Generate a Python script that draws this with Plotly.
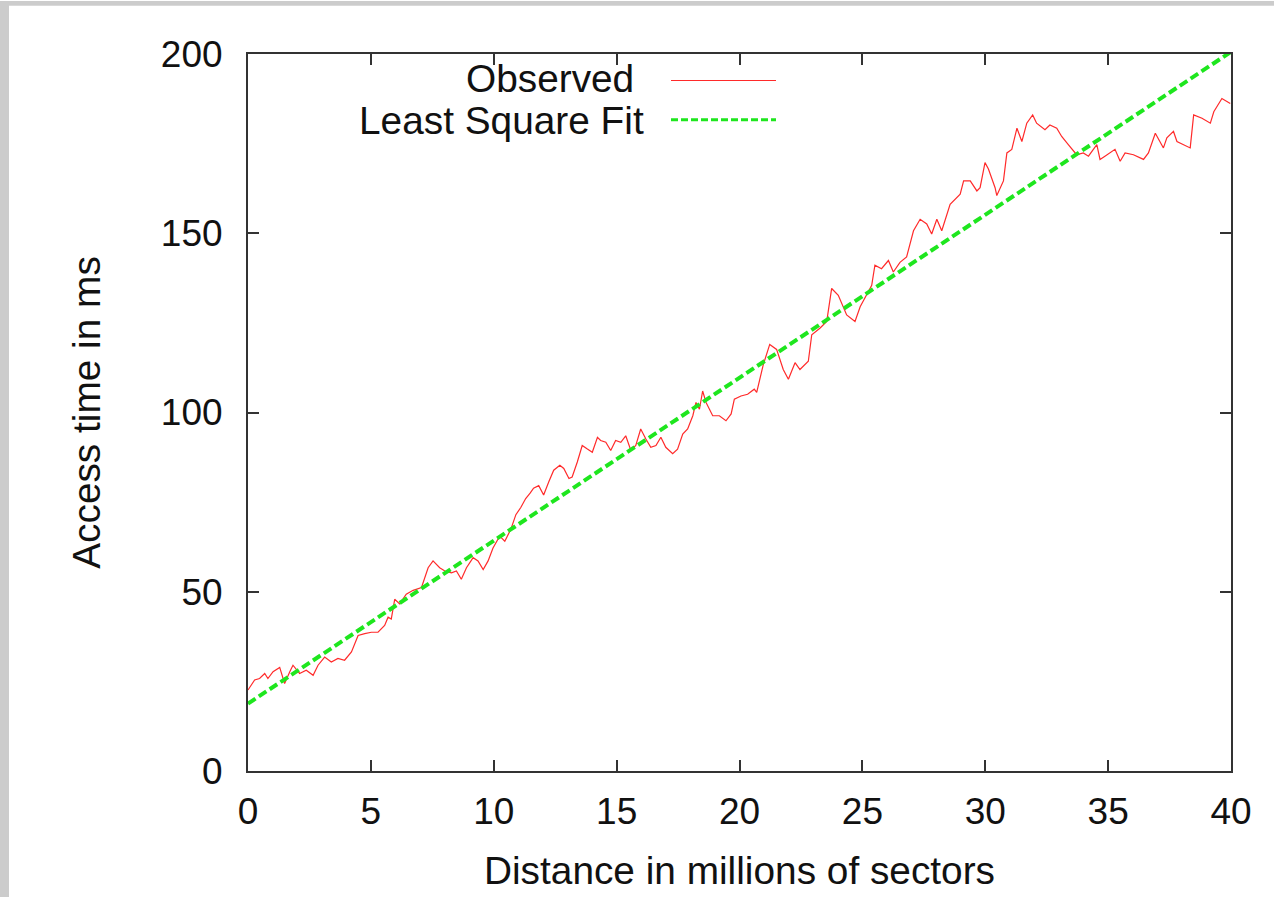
import plotly.graph_objects as go

# ---- data ----
obs_x = [0.00, 0.27, 0.47, 0.68, 0.81, 1.02, 1.29, 1.49, 1.70, 1.83, 2.10, 2.37, 2.65, 2.85,
         3.12, 3.39, 3.66, 3.93, 4.21, 4.48, 4.75, 5.02, 5.29, 5.56, 5.70, 5.83, 5.97, 6.17,
         6.44, 6.72, 7.06, 7.33, 7.53, 7.80, 8.01, 8.28, 8.48, 8.68, 8.89, 9.16, 9.36, 9.57,
         9.77, 9.97, 10.24, 10.45, 10.70, 10.90, 11.10, 11.30, 11.48, 11.62, 11.83, 12.03,
         12.24, 12.44, 12.69, 12.85, 13.06, 13.19, 13.40, 13.60, 13.81, 14.01, 14.22, 14.35,
         14.56, 14.76, 14.96, 15.17, 15.37, 15.58, 15.78, 15.98, 16.19, 16.39, 16.60, 16.80,
         17.00, 17.28, 17.48, 17.69, 17.89, 18.10, 18.23, 18.37, 18.50, 18.64, 18.91, 19.18,
         19.45, 19.66, 19.79, 20.06, 20.33, 20.60, 20.70, 20.97, 21.23, 21.51, 21.78, 21.99,
         22.26, 22.46, 22.80, 22.94, 23.27, 23.55, 23.75, 24.02, 24.36, 24.70, 24.91, 25.17,
         25.38, 25.51, 25.78, 26.06, 26.26, 26.53, 26.80, 27.08, 27.35, 27.62, 27.82, 28.03,
         28.23, 28.57, 28.98, 29.12, 29.39, 29.66, 29.79, 29.99, 30.13, 30.40, 30.47, 30.74,
         30.88, 31.08, 31.29, 31.49, 31.69, 31.93, 32.09, 32.43, 32.63, 32.91, 33.11, 33.38,
         33.72, 33.99, 34.20, 34.54, 34.67, 34.87, 35.28, 35.49, 35.69, 36.03, 36.44, 36.64,
         36.92, 37.25, 37.39, 37.66, 37.80, 38.34, 38.48, 38.82, 39.16, 39.30, 39.63, 39.97]
obs_y = [22.6, 25.4, 25.8, 27.2, 25.8, 27.7, 28.9, 24.4, 27.7, 29.5, 27.2, 28.1, 26.7, 29.5,
         31.8, 30.4, 31.4, 30.9, 33.2, 37.8, 38.3, 38.7, 38.7, 40.6, 42.9, 42.4, 47.9, 46.6,
         49.3, 50.4, 51.2, 56.7, 58.6, 56.7, 55.8, 55.3, 55.8, 53.5, 56.7, 59.5, 58.6, 56.2,
         58.6, 62.2, 65.5, 64.1, 67.5, 71.5, 73.5, 76.0, 77.5, 78.9, 79.6, 77.0,
         80.7, 83.9, 85.3, 84.4, 81.6, 82.0, 86.2, 90.8, 89.8, 88.9, 93.1, 92.2,
         91.7, 89.4, 92.2, 91.7, 93.5, 89.4, 90.8, 95.4, 92.6, 90.3, 90.8, 93.1,
         90.3, 88.5, 89.8, 94.0, 95.4, 99.1, 102.8, 100.9, 106.0, 102.8, 99.1, 99.1,
         97.7, 99.6, 103.7, 104.6, 105.1, 106.5, 105.6, 113.4, 119.0, 117.6, 112.0, 109.3,
         113.9, 112.0, 114.3, 121.7, 123.5, 125.4, 134.6, 132.7, 127.2, 125.4, 129.5, 132.7,
         135.5, 141.1, 140.1, 142.4, 139.2, 141.9, 143.4, 150.7, 153.9, 152.6, 149.8, 153.9,
         150.7, 158.1, 160.9, 164.6, 164.6, 161.8, 162.7, 169.7, 167.9, 162.7, 160.5, 164.6,
         172.4, 173.4, 179.3, 175.6, 180.7, 183.0, 180.7, 178.9, 180.2, 179.3, 177.0, 174.7,
         171.9, 172.4, 171.5, 174.7, 170.6, 171.5, 173.4, 170.1, 172.4, 171.9, 170.6, 172.4,
         177.9, 173.8, 176.6, 178.4, 175.6, 173.8, 183.0, 182.1, 180.7, 183.9, 187.6, 186.2]

fit_x = [0, 40]
fit_y = [18.8, 200.6]

x_ticks = [0, 5, 10, 15, 20, 25, 30, 35, 40]
y_ticks = [0, 50, 100, 150, 200]

legend_names = ["Observed", "Least Square Fit"]

# ---- styling ----
FONT = "Liberation Sans, Arial, Helvetica, sans-serif"
FS_TICK = 37
FS_TEXT = 38.8
RED = "#ff2a2a"
GREEN = "#1ee61e"
W, H = 1274, 897
ML, MR, MT, MB = 248, 43, 54, 113
PW, PH = W - ML - MR, H - MT - MB


def px(xp):
    return (xp - ML) / PW


def py(yp):
    return (H - MB - yp) / PH


fig = go.Figure()
fig.add_trace(go.Scatter(x=obs_x, y=obs_y, mode="lines", name=legend_names[0],
                         line=dict(color=RED, width=1.2), showlegend=False))
fig.add_trace(go.Scatter(x=fit_x, y=fit_y, mode="lines", name=legend_names[1],
                         line=dict(color=GREEN, width=4, dash="9px,4px"), showlegend=False))

axis_common = dict(
    showgrid=False, zeroline=False, showline=True, linecolor="#333333", linewidth=2,
    mirror="ticks", ticks="inside", ticklen=11, tickwidth=1.5, tickcolor="#333333",
    tickfont=dict(family=FONT, size=FS_TICK, color="#111111"),
)

fig.update_xaxes(range=[0, 40], tickvals=x_ticks, ticktext=[str(v) for v in x_ticks],
                 title=dict(text="Distance in millions of sectors",
                            font=dict(family=FONT, size=FS_TEXT, color="#111111"), standoff=25),
                 ticklabelstandoff=7, **axis_common)
fig.update_yaxes(range=[0, 200], tickvals=y_ticks, ticktext=[str(v) for v in y_ticks],
                 title=dict(text="Access time in ms",
                            font=dict(family=FONT, size=FS_TEXT, color="#111111"), standoff=48),
                 ticklabelstandoff=16, **axis_common)


def ry(yp):
    return py(yp - 1)


annotations = [
    dict(x=px(636), y=ry(80), xref="paper", yref="paper", text=legend_names[0],
         xanchor="right", yanchor="middle", showarrow=False,
         font=dict(family=FONT, size=FS_TEXT, color="#111111")),
    dict(x=px(646), y=ry(123), xref="paper", yref="paper", text=legend_names[1],
         xanchor="right", yanchor="middle", showarrow=False,
         font=dict(family=FONT, size=FS_TEXT, color="#111111")),
]

shapes = [
    # legend samples
    dict(type="line", xref="paper", yref="paper", x0=px(671), x1=px(776), y0=ry(82), y1=ry(82),
         line=dict(color=RED, width=1.2)),
    dict(type="line", xref="paper", yref="paper", x0=px(671), x1=px(776), y0=ry(122), y1=ry(122),
         line=dict(color=GREEN, width=3, dash="7px,3px")),
    # grey viewer border
    dict(type="rect", xref="paper", yref="paper", x0=px(0), x1=px(W), y0=py(0), y1=py(5),
         fillcolor="#cccccc", line=dict(width=0), layer="below"),
    dict(type="rect", xref="paper", yref="paper", x0=px(0), x1=px(9), y0=py(H + 20), y1=py(0),
         fillcolor="#cccccc", line=dict(width=0), layer="below"),
]

fig.update_layout(
    width=W, height=H,
    margin=dict(l=ML, r=MR, t=MT, b=MB),
    paper_bgcolor="white", plot_bgcolor="white",
    annotations=annotations, shapes=shapes,
    showlegend=False,
)

fig.write_html("out.html")
